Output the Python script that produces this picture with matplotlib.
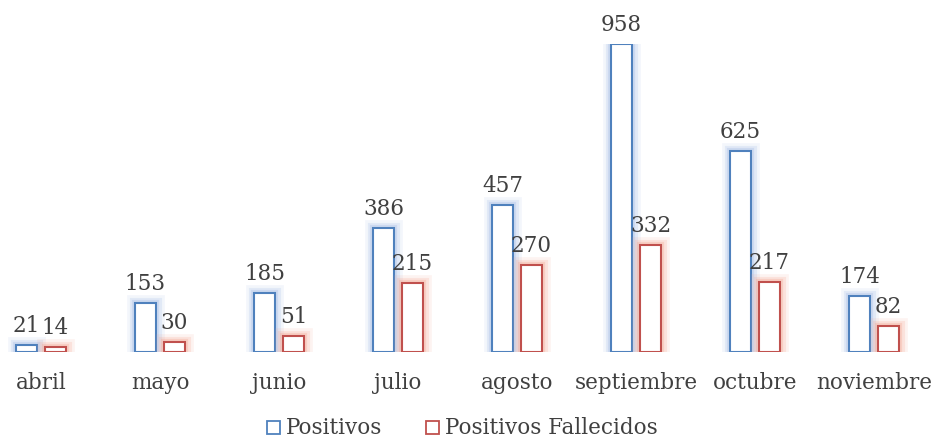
import matplotlib
matplotlib.use("Agg")
import matplotlib.pyplot as plt
import matplotlib.patheffects as pe
from matplotlib.patches import Rectangle
import numpy as np

months = ["abril", "mayo", "junio", "julio", "agosto", "septiembre", "octubre", "noviembre"]
positivos = [21, 153, 185, 386, 457, 958, 625, 174]
fallecidos = [14, 30, 51, 215, 270, 332, 217, 82]

BLUE = "#4F81BD"
RED = "#C0504D"
BLUE_GLOW = "#9DB5E3"
RED_GLOW = "#F4A08C"
TEXT = "#404040"

plt.rcParams["font.family"] = ["DejaVu Serif"]
FS = 15.5

fig = plt.figure(figsize=(9.34, 4.39), dpi=100)
W, H = 934, 439
# axes: baseline at y=353 px, top (958) at y=45 px; full width
ax = fig.add_axes([0, (H - 353) / H, 1, (353 - 45) / H])
ax.set_xlim(-41 / 119, (934 - 41) / 119)
ax.set_ylim(0, 958)
ax.axis("off")

x = np.arange(len(months))
off = 0.122
w = 0.176


def glow(color):
    return [pe.Stroke(linewidth=12, foreground=color, alpha=0.12),
            pe.Stroke(linewidth=8, foreground=color, alpha=0.2),
            pe.Stroke(linewidth=4.5, foreground=color, alpha=0.3),
            pe.Normal()]


b1 = ax.bar(x - off, positivos, w, facecolor="white", edgecolor=BLUE, linewidth=1.5)
b2 = ax.bar(x + off, fallecidos, w, facecolor="white", edgecolor=RED, linewidth=1.5)
for r in b1:
    r.set_path_effects(glow(BLUE_GLOW))
for r in b2:
    r.set_path_effects(glow(RED_GLOW))

# value labels just above the bar top
gap = 9 * 958 / 308
for xi, v in zip(x - off, positivos):
    ax.text(xi, v + gap, str(v), ha="center", va="bottom", fontsize=FS, color=TEXT, clip_on=False)
for xi, v in zip(x + off, fallecidos):
    ax.text(xi, v + gap, str(v), ha="center", va="bottom", fontsize=FS, color=TEXT, clip_on=False)

for xi, m in zip(x, months):
    fig.text((41 + 119 * xi) / W, (H - 383) / H, m, ha="center", va="center",
             fontsize=FS, color=TEXT)

# legend
ly = (H - 428) / H
sq = 13
for px, col in [(267, BLUE), (426, RED)]:
    fig.patches.append(Rectangle((px / W, (H - 435) / H), sq / W, sq / H,
                                 transform=fig.transFigure, facecolor="white",
                                 edgecolor=col, linewidth=1.3))
fig.text(286 / W, ly, "Positivos", color=TEXT, fontsize=FS, ha="left", va="center")
fig.text(445 / W, ly, "Positivos Fallecidos", color=TEXT, fontsize=FS, ha="left", va="center")

fig.savefig("out.png", dpi=100)
